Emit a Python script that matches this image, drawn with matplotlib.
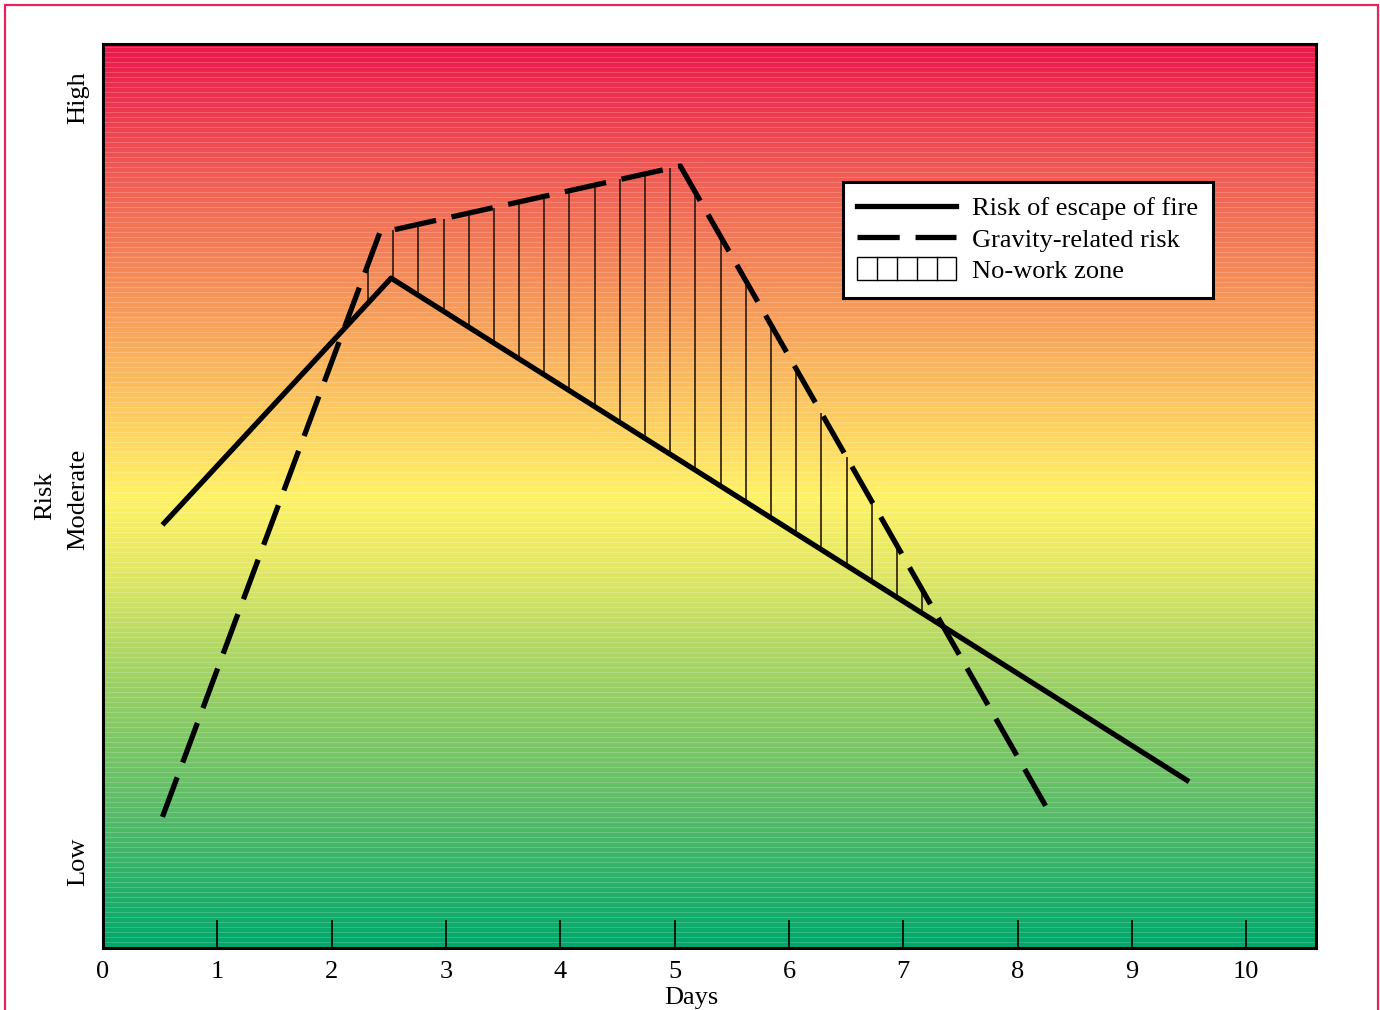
import numpy as np
import matplotlib
matplotlib.use("Agg")
import matplotlib.pyplot as plt
from matplotlib.colors import LinearSegmentedColormap
from matplotlib.lines import Line2D
from matplotlib.patches import Rectangle
from matplotlib.legend_handler import HandlerBase

# ---- data ----
fire_days = [0.52, 2.52, 9.50]
fire_risk = [46.8, 74.1, 18.4]
gravity_days = [0.52, 2.42, 5.05, 8.30]
gravity_risk = [14.5, 79.1, 86.5, 14.5]
x_ticks = [0, 1, 2, 3, 4, 5, 6, 7, 8, 9, 10]
y_tick_pos = [9.5, 49.6, 94.1]
y_tick_labels = ["Low", "Moderate", "High"]
labels = ["Risk of escape of fire", "Gravity-related risk", "No-work zone"]
hatch_start, hatch_stop, hatch_step = 2.318, 7.20, 0.2203

plt.rcParams['font.family'] = ['Liberation Serif', 'DejaVu Serif']
FS = 19

fig = plt.figure(figsize=(13.8, 10.1), dpi=100)
ax = fig.add_axes([103/1380, 62/1010, 1213/1380, 904/1010])
XMAX = 10.61

# background gradient
stops = [
    (0.00, (0/255, 168/255, 107/255)),
    (0.15, (90/255, 188/255, 105/255)),
    (0.30, (160/255, 210/255, 100/255)),
    (0.42, (228/255, 232/255, 100/255)),
    (0.50, (255/255, 242/255, 102/255)),
    (0.60, (252/255, 200/255, 96/255)),
    (0.72, (246/255, 150/255, 90/255)),
    (0.85, (240/255, 95/255, 85/255)),
    (1.00, (236/255, 24/255, 76/255)),
]
cmap = LinearSegmentedColormap.from_list("risk", stops)
nrows = 904
vals = np.linspace(0, 1, nrows)[:, None]
rgb = cmap(vals)[:, :, :3].copy()
rgb[::5] = rgb[::5] * 0.82 + 0.18  # faint light stripes
ax.imshow(rgb, extent=[0, XMAX, 0, 100], origin='lower', aspect='auto',
          interpolation='nearest', zorder=0)

# hatch lines (no-work zone)
hx = np.arange(hatch_start, hatch_stop, hatch_step)
lo = np.interp(hx, fire_days, fire_risk)
hi = np.interp(hx, gravity_days, gravity_risk)
ax.vlines(hx, lo, hi, color='#2a1a12', lw=1.2, zorder=2)

ax.plot(fire_days, fire_risk, color='black', lw=3.8, solid_capstyle='butt', zorder=3)
ax.plot(gravity_days, gravity_risk, color='black', lw=3.8, linestyle=(0, (8, 3)),
        dash_capstyle='butt', zorder=3)

ax.set_xlim(0, XMAX)
ax.set_ylim(0, 100)
ax.set_xticks(x_ticks)
ax.set_xticklabels([str(t) for t in x_ticks], fontsize=FS)
ax.tick_params(axis='x', direction='in', length=20, width=1.2, pad=9)
ax.xaxis.get_major_ticks()[0].tick1line.set_visible(False)
ax.set_yticks(y_tick_pos)
ax.set_yticklabels(y_tick_labels, rotation=90, va='center', fontsize=FS)
ax.tick_params(axis='y', length=0, pad=10)
ax.set_xlabel("Days", fontsize=FS, labelpad=3)
ax.xaxis.set_label_coords((691 - 103) / 1213, -0.043)
ax.set_ylabel("Risk", fontsize=FS, labelpad=8)
for s in ax.spines.values():
    s.set_linewidth(2.2)


class HatchBoxHandler(HandlerBase):
    def create_artists(self, legend, orig_handle, xdescent, ydescent, width, height, fontsize, trans):
        arts = []
        h = height * 1.25
        y0 = -ydescent - (h - height) / 2
        r = Rectangle((-xdescent, y0), width, h, facecolor='white', edgecolor='black',
                      lw=1.0, transform=trans)
        arts.append(r)
        for i in range(1, 5):
            xx = -xdescent + width * i / 5
            arts.append(Line2D([xx, xx], [y0, y0 + h], color='black', lw=1.0, transform=trans))
        return arts


hatch_handle = Rectangle((0, 0), 1, 1)
handles = [Line2D([], [], color='black', lw=3.8),
           Line2D([], [], color='black', lw=3.8, linestyle=(0, (8, 3)), dash_capstyle='butt'),
           hatch_handle]
leg = ax.legend(handles, labels, loc='upper left', bbox_to_anchor=(0.610, 0.847),
                fontsize=FS, frameon=True, fancybox=False, framealpha=1,
                edgecolor='black', handlelength=3.75, handletextpad=0.6,
                borderpad=0.55, labelspacing=0.3, borderaxespad=0,
                handler_map={Rectangle: HatchBoxHandler()})
leg.get_frame().set_linewidth(2.2)

# pink page border
fig.patches.append(Rectangle((5/1380, -0.02), 1373/1380, 1 - 5/1010 + 0.02,
                             transform=fig.transFigure, fill=False,
                             edgecolor='#e8245a', lw=1.6))

fig.savefig("out.png", dpi=100)
